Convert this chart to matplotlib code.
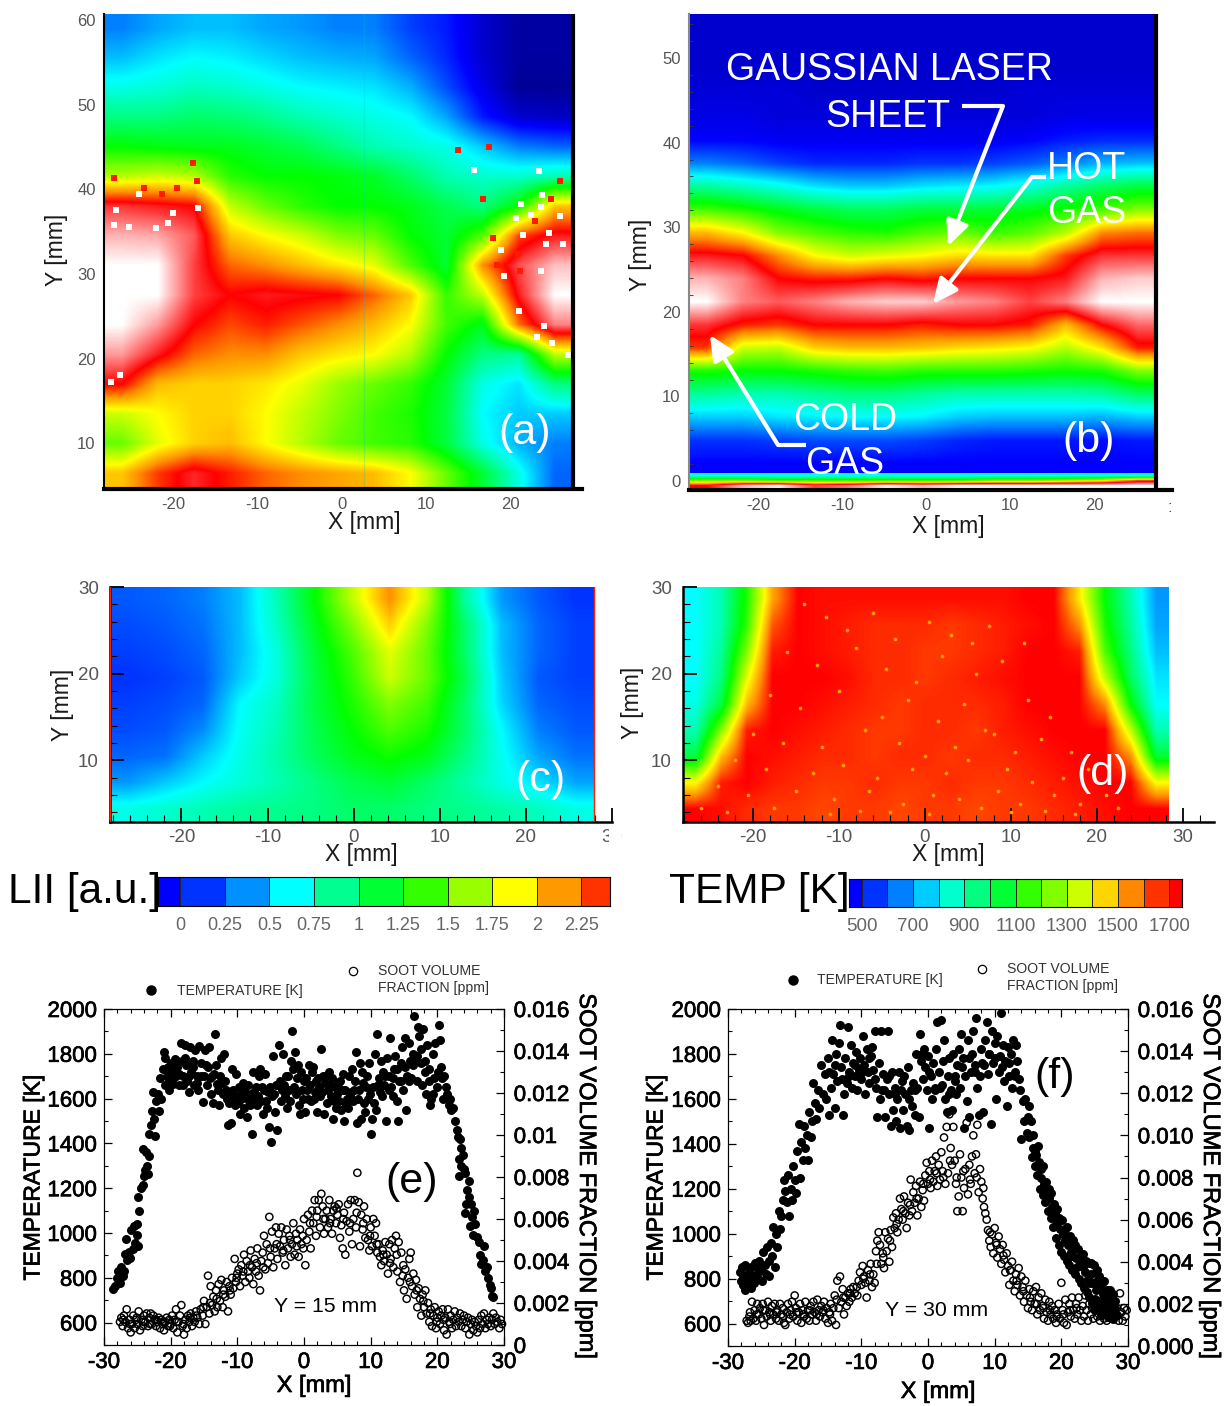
import numpy as np
import matplotlib
matplotlib.use('Agg')
import matplotlib.pyplot as plt
import matplotlib.patheffects as pe
from matplotlib.colors import LinearSegmentedColormap, ListedColormap, BoundaryNorm
from matplotlib.patches import Rectangle
from matplotlib.ticker import MultipleLocator

plt.rcParams['font.family'] = ['Liberation Sans', 'DejaVu Sans']
plt.rcParams['axes.unicode_minus'] = False

W, H = 1225, 1406

# panel (a): signal read on a coarse grid, top row first, colour scale 0-11
grid_a = [
    [2.0, 2.3, 2.5, 2.5, 2.3, 2.2, 2.0, 2.0, 1.5, 1.2, 0.6, 0.2, 0.2],
    [2.5, 2.8, 3.0, 2.9, 2.7, 2.5, 2.4, 2.3, 1.8, 1.3, 0.6, 0.2, 0.2],
    [3.2, 3.3, 3.5, 3.4, 3.2, 3.0, 2.9, 2.8, 2.4, 1.6, 0.8, 0.1, 0.1],
    [4.0, 4.0, 4.2, 4.1, 3.9, 3.6, 3.4, 3.2, 3.0, 2.3, 1.2, 0.6, 0.5],
    [5.0, 4.9, 4.8, 4.8, 4.6, 4.4, 4.0, 3.6, 3.4, 3.2, 2.6, 2.0, 1.8],
    [6.4, 6.6, 6.4, 5.3, 5.0, 5.0, 4.9, 4.7, 4.2, 3.6, 3.4, 3.4, 3.6],
    [9.4, 9.2, 9.0, 6.5, 5.8, 5.3, 5.0, 5.0, 4.8, 4.4, 4.0, 5.0, 7.5],
    [10.4, 10.3, 9.7, 7.5, 7.0, 6.6, 6.0, 5.8, 5.0, 4.6, 5.6, 8.5, 9.2],
    [11.0, 11.0, 9.5, 8.3, 8.0, 7.6, 7.2, 6.8, 5.6, 4.6, 8.0, 9.6, 10.5],
    [11.0, 11.0, 9.5, 9.0, 9.2, 9.1, 9.0, 8.3, 7.5, 5.4, 6.5, 9.2, 11.0],
    [11.0, 10.2, 9.0, 8.5, 8.8, 8.4, 8.0, 7.6, 7.0, 5.5, 4.8, 8.2, 10.0],
    [10.2, 9.2, 8.3, 8.0, 8.0, 7.5, 7.2, 7.0, 6.4, 5.0, 4.0, 3.8, 6.5],
    [9.0, 7.6, 7.4, 7.4, 7.2, 6.8, 6.2, 5.8, 5.4, 4.6, 3.2, 2.8, 4.0],
    [6.6, 7.0, 7.4, 7.4, 7.0, 6.5, 6.0, 5.5, 5.2, 4.5, 3.0, 2.6, 2.6],
    [5.8, 6.8, 7.4, 7.6, 7.0, 6.4, 5.8, 5.5, 5.3, 4.5, 3.2, 2.4, 2.0],
    [7.5, 8.6, 9.3, 8.8, 8.3, 8.0, 7.8, 7.6, 7.0, 5.8, 4.6, 3.2, 1.8],
]
a_white_x = [15.7, 21.3, 23.8, 23.6, 22.4, 20.7, 25.9, 23.4, 21.5, 24.6, 26.3, 24.2, 18.9, 19.3, 23.6, 21.0, 24.0, 23.2, 25.0, 26.8,
             -26.8, -24.0, -20.0, -17.1, -27.0, -25.2, -22.0, -20.6, -26.3, -27.4]
a_white_y = [42.3, 38.3, 39.3, 37.9, 37.0, 36.6, 36.8, 42.2, 34.6, 34.8, 33.5, 33.5, 32.8, 29.7, 30.3, 25.6, 23.9, 22.6, 21.9, 20.4,
             37.5, 39.5, 37.2, 37.8, 35.8, 35.6, 35.4, 36.0, 18.1, 17.2]
a_red_x = [17.5, 13.8, 16.8, 17.9, 20.9, 25.9, 22.9, 24.8, 18.4, 21.2, -17.7, -27.0, -23.4, -19.5, -21.3, -17.2]
a_red_y = [45.0, 44.6, 38.9, 34.2, 32.3, 41.0, 36.2, 38.8, 31.0, 30.4, 43.1, 41.3, 40.2, 40.2, 39.4, 41.0]

# panel (b)
grid_b = [
    [0.6, 0.6, 0.6, 0.6, 0.6, 0.6, 0.6, 0.6, 0.6, 0.6, 0.6, 0.6, 0.6],
    [0.6, 0.6, 0.6, 0.6, 0.6, 0.6, 0.6, 0.6, 0.6, 0.6, 0.6, 0.6, 0.6],
    [0.6, 0.6, 0.6, 0.6, 0.6, 0.6, 0.6, 0.6, 0.6, 0.6, 0.6, 0.6, 0.6],
    [0.7, 0.7, 0.7, 0.6, 0.6, 0.6, 0.6, 0.6, 0.6, 0.7, 0.7, 0.7, 0.7],
    [0.8, 0.8, 0.7, 0.7, 0.7, 0.7, 0.7, 0.7, 0.7, 0.7, 0.8, 0.8, 0.8],
    [1.0, 1.0, 0.9, 0.9, 0.9, 0.9, 0.9, 0.9, 0.9, 1.0, 1.2, 1.3, 1.3],
    [2.0, 1.8, 1.5, 1.3, 1.3, 1.3, 1.4, 1.4, 1.5, 1.7, 2.0, 2.4, 2.5],
    [3.8, 3.5, 3.2, 2.8, 2.6, 2.6, 2.8, 2.9, 3.0, 3.3, 3.8, 4.2, 4.5],
    [5.5, 5.2, 4.8, 4.5, 4.3, 4.3, 4.5, 4.5, 4.6, 4.8, 5.1, 5.5, 6.0],
    [7.6, 7.0, 6.0, 5.6, 5.3, 5.2, 5.6, 5.8, 5.4, 5.7, 6.4, 8.0, 8.2],
    [9.2, 9.0, 8.0, 7.0, 6.6, 6.8, 7.0, 7.3, 7.2, 7.2, 8.6, 9.4, 9.4],
    [10.4, 10.0, 9.0, 8.8, 8.8, 9.0, 8.8, 9.0, 9.0, 9.0, 9.2, 10.4, 10.6],
    [11.0, 10.0, 9.7, 10.0, 10.4, 10.6, 10.6, 10.2, 10.0, 9.5, 10.0, 11.0, 11.0],
    [9.4, 8.8, 8.6, 9.0, 9.0, 9.0, 8.8, 9.0, 9.0, 8.8, 7.6, 9.0, 9.8],
    [8.6, 6.6, 6.5, 7.4, 7.6, 7.6, 7.5, 7.3, 7.2, 7.0, 6.4, 7.2, 8.8],
    [5.2, 5.0, 5.0, 5.2, 5.4, 5.5, 5.3, 5.3, 5.3, 5.2, 5.1, 5.2, 6.0],
    [3.8, 3.6, 3.6, 3.8, 4.0, 4.0, 3.8, 3.6, 3.6, 3.6, 3.6, 3.7, 4.2],
    [2.6, 2.6, 2.8, 2.9, 3.0, 3.0, 2.9, 2.6, 2.5, 2.5, 2.5, 2.4, 2.6],
    [1.4, 1.4, 1.5, 1.6, 1.6, 1.6, 1.5, 1.3, 1.2, 1.2, 1.2, 1.1, 1.2],
    [1.0, 1.0, 1.0, 1.0, 1.0, 1.0, 1.0, 1.0, 1.0, 1.0, 1.0, 1.0, 1.0],
]
strip_b = [
    [3.0, 3.0, 3.0, 3.0, 3.0, 3.0, 3.0, 3.0, 3.0, 3.0, 3.0, 3.0, 3.0],
    [6.0, 6.0, 5.5, 5.5, 5.5, 5.5, 5.5, 5.5, 6.0, 6.0, 6.5, 7.0, 8.5],
    [9.0, 10.5, 11.0, 9.5, 10.0, 11.0, 10.5, 11.0, 11.0, 11.0, 11.0, 11.0, 11.0],
]

# panel (c)
grid_c = [
    [1.7, 1.8, 2.0, 2.5, 3.6, 5.0, 6.5, 8.0, 6.5, 3.8, 2.2, 1.7, 1.4],
    [1.6, 1.7, 1.9, 2.5, 3.5, 4.8, 6.0, 7.4, 6.0, 4.2, 2.5, 1.8, 1.5],
    [1.5, 1.6, 1.8, 2.5, 3.3, 4.6, 5.6, 6.8, 5.8, 4.2, 2.5, 1.8, 1.5],
    [1.4, 1.5, 1.7, 2.6, 3.3, 4.5, 5.4, 6.6, 5.8, 4.4, 2.6, 1.7, 1.5],
    [1.5, 1.6, 1.8, 3.0, 3.5, 4.5, 5.2, 6.0, 5.5, 4.2, 2.7, 1.8, 1.6],
    [1.6, 1.7, 2.1, 3.1, 3.6, 4.4, 5.0, 5.6, 5.2, 4.2, 3.0, 2.0, 1.7],
    [1.8, 1.9, 2.6, 3.2, 3.7, 4.3, 4.8, 5.1, 4.8, 4.0, 3.1, 2.3, 1.9],
    [2.2, 2.6, 3.0, 3.3, 3.6, 4.0, 4.4, 4.6, 4.2, 3.7, 3.2, 2.8, 2.3],
    [3.2, 3.4, 3.6, 3.8, 3.9, 4.0, 4.2, 4.2, 4.0, 3.9, 3.7, 3.5, 3.2],
]

# panel (d)
grid_d = [
    [3.0, 3.6, 5.2, 7.8, 9.0, 8.9, 8.9, 8.9, 8.9, 8.9, 8.9, 8.9, 8.9, 9.0, 9.0, 7.2, 5.0, 3.6, 2.2],
    [3.0, 3.6, 5.4, 8.4, 9.0, 8.9, 8.8, 8.7, 8.7, 8.7, 8.6, 8.7, 8.8, 8.9, 9.0, 8.0, 5.2, 3.8, 2.3],
    [3.0, 3.8, 6.0, 8.8, 9.0, 8.9, 8.8, 8.7, 8.7, 8.6, 8.6, 8.7, 8.8, 9.0, 9.0, 8.8, 5.6, 4.0, 2.5],
    [3.0, 4.0, 6.8, 9.0, 9.0, 9.0, 8.9, 8.7, 8.7, 8.6, 8.7, 8.8, 8.9, 9.0, 9.0, 9.0, 6.5, 4.3, 2.8],
    [3.2, 4.5, 7.6, 9.0, 9.0, 8.9, 8.8, 8.7, 8.6, 8.7, 8.7, 8.7, 8.8, 9.0, 9.0, 9.0, 8.0, 5.0, 3.0],
    [3.6, 6.0, 8.8, 9.0, 8.9, 8.8, 8.7, 8.6, 8.6, 8.7, 8.7, 8.6, 8.8, 8.9, 9.0, 9.0, 9.0, 6.5, 3.6],
    [4.5, 7.6, 9.0, 8.9, 8.8, 8.7, 8.7, 8.6, 8.7, 8.7, 8.6, 8.7, 8.7, 8.8, 8.9, 9.0, 9.0, 8.0, 4.6],
    [7.0, 8.8, 9.0, 8.8, 8.7, 8.6, 8.6, 8.7, 8.6, 8.6, 8.7, 8.6, 8.6, 8.7, 8.8, 8.9, 9.0, 9.0, 7.0],
    [9.0, 8.9, 8.7, 8.6, 8.6, 8.5, 8.6, 8.6, 8.5, 8.6, 8.6, 8.5, 8.6, 8.6, 8.7, 8.8, 8.9, 9.0, 9.0],
]
# lighter flecks seen inside the hot region of (d)
d_fleck_x = [-14, -11.5, -9, -6, -3.5, 0.5, 3, 5.5, 7.5, -16, -12.5, -8, -4.5, -1, 2, 6, 9, 11.5, -18, -14.5, -10, -5, -2, 1.5, 4.5, 8,
             12, 14.5, -20, -16.5, -12, -7, -3, 0, 3.5, 7, 10.5, 13.5, 17, -22, -18.5, -13, -9.5, -5.5, -1.5, 2.5, 5, 9.5, 12.5, 16, 19,
             -24, -20.5, -15, -10.5, -6.5, -2.5, 1, 4, 8.5, 11, 15, 18, 21, -26, -23, -17.5, -11, -7.5, -4, 0.5, 6.5, 10, 14, 17.5, 22.5]
d_fleck_y = [28, 26.5, 25, 27, 24, 26, 24.5, 23.5, 25.5, 22.5, 21, 23, 20.5, 19, 22, 20, 21.5, 23.5, 17.5, 16, 18, 15, 17, 14.5, 16.5, 13,
             17, 15, 13, 12, 11.5, 13.5, 12, 10.5, 11.5, 13.5, 11, 12.5, 11, 10, 9, 8.5, 9.5, 8, 9, 8.5, 10, 9, 7.5, 8, 9,
             7, 6, 6.5, 5.5, 6.5, 5, 6, 5.5, 6.5, 5, 6, 5, 6, 4.5, 4, 4.5, 3.8, 4.2, 4, 3.8, 4.5, 4, 4.2, 3.8, 4.5]

lii_levels = [-0.125, 0, 0.25, 0.5, 0.75, 1, 1.25, 1.5, 1.75, 2, 2.25, 2.41]
lii_colors = ['#0000ff', '#0033ff', '#0090ff', '#00ffff', '#00ff90', '#00ff33', '#33ff00', '#99ff00', '#ffff00', '#ff9900', '#ff3300']
lii_ticks = [0, 0.25, 0.5, 0.75, 1, 1.25, 1.5, 1.75, 2, 2.25]
lii_labels = ['0', '0.25', '0.5', '0.75', '1', '1.25', '1.5', '1.75', '2', '2.25']

temp_levels = [450, 500, 600, 700, 800, 900, 1000, 1100, 1200, 1300, 1400, 1500, 1600, 1700, 1750]
temp_colors = ['#0000ff', '#0033ff', '#0080ff', '#00ccff', '#00ffcc', '#00ff80', '#00ff33', '#33ff00', '#80ff00', '#ccff00', '#ffd500', '#ff8800', '#ff3300', '#ff0000']
temp_ticks = [500, 700, 900, 1100, 1300, 1500, 1700]

# panel (e) points: (X mm, temperature K)
e_temp = [
    (-28.6,750),(-28.4,765),(-28.1,800),(-27.9,830),(-27.6,775),(-27.5,850),(-27.2,810),(-27.0,830),(-26.9,905),(-26.7,975),
    (-26.5,880),(-26.3,915),(-26.1,890),(-25.9,1015),(-25.7,930),(-25.5,1030),(-25.3,955),(-25.1,990),(-25.0,1040),(-24.9,940),
    (-24.8,1100),(-24.9,1160),(-24.5,1200),(-24.2,1215),(-24.0,1255),(-23.8,1280),(-23.6,1300),(-23.4,1265),(-24.1,1375),(-23.7,1360),
    (-23.3,1345),(-23.0,1480),(-23.3,1440),(-22.8,1545),(-22.3,1435),(-22.5,1510),(-22.7,1630),(-22.2,1590),(-21.9,1620),(-21.7,1545),
    (-21.5,1600),(-21.6,1690),(-21.2,1730),(-21.0,1810),(-20.8,1780),(-20.6,1700),(-20.9,1660),(-20.4,1740),(-20.2,1680),(-20.0,1760),
    (-19.8,1720),(-19.6,1665),(-19.4,1775),(-19.2,1700),(-19.0,1740),(-18.8,1660),(-18.5,1850),(-18.3,1770),(-18.1,1700),(-17.9,1840),
    (-17.7,1750),(-17.5,1680),(-17.3,1630),(-17.1,1830),(-16.9,1720),(-16.7,1770),(-16.5,1660),(-16.3,1815),(-16.1,1700),(-15.9,1640),
    (-15.7,1835),(-15.5,1760),(-15.2,1585),(-15.0,1700),(-14.8,1815),(-14.6,1660),(-14.4,1740),(-14.2,1830),(-14.0,1620),(-13.8,1700),
    (-13.6,1580),(-13.4,1890),(-13.2,1750),(-13.0,1665),(-12.8,1570),(-12.6,1700),(-12.4,1780),(-12.2,1620),(-12.0,1800),(-11.8,1680),
    (-11.6,1600),(-11.4,1480),(-11.2,1580),(-11.0,1490),(-10.8,1730),(-10.6,1640),(-10.4,1570),(-10.2,1710),(-10.0,1610),(-9.8,1650),
    (-9.6,1530),(-9.4,1600),(-9.2,1670),(-9.0,1560),(-8.8,1630),(-8.6,1520),(-8.4,1660),(-8.2,1590),(-8.0,1620),(-7.8,1440),
    (-7.6,1720),(-7.4,1600),(-7.2,1650),(-7.0,1570),(-6.8,1700),(-6.6,1730),(-6.4,1590),(-6.2,1530),(-6.0,1640),(-5.8,1710),
    (-5.6,1560),(-5.4,1630),(-5.2,1475),(-5.0,1405),(-4.8,1610),(-4.6,1790),(-4.4,1540),(-4.2,1660),(-4.0,1460),(-3.8,1840),
    (-3.6,1680),(-3.4,1590),(-3.2,1800),(-3.0,1660),(-2.8,1610),(-2.6,1560),(-2.4,1700),(-2.2,1640),(-2.0,1770),(-1.8,1900),
    (-1.6,1730),(-1.4,1810),(-1.2,1620),(-1.0,1690),(-0.8,1570),(-0.6,1530),(-0.4,1720),(-0.2,1600),(0.0,1680),(0.2,1540),
    (0.4,1640),(0.6,1600),(0.8,1750),(1.0,1590),(1.2,1720),(1.4,1740),(1.6,1630),(1.8,1680),(2.0,1540),(2.2,1650),
    (2.4,1610),(2.6,1820),(2.8,1700),(3.0,1530),(3.2,1670),(3.4,1580),(3.6,1640),(3.8,1720),(4.0,1610),(4.2,1690),
    (4.4,1510),(4.6,1650),(4.8,1560),(5.0,1620),(5.2,1590),(5.4,1680),(5.6,1550),(5.8,1710),(6.0,1500),(6.2,1640),
    (6.4,1600),(6.6,1560),(6.8,1700),(7.0,1630),(7.2,1730),(7.4,1590),(7.6,1680),(7.8,1810),(8.0,1490),(8.2,1640),
    (8.4,1760),(8.6,1510),(8.8,1670),(9.0,1580),(9.2,1540),(9.4,1700),(9.6,1600),(9.8,1760),(10.0,1440),(10.2,1510),
    (10.4,1650),(10.6,1800),(10.8,1550),(11.0,1890),(11.2,1690),(11.4,1630),(11.6,1770),(11.8,1720),(12.0,1660),(12.3,1500),
    (12.5,1780),(12.7,1700),(12.9,1870),(13.1,1650),(13.3,1610),(13.5,1730),(13.7,1790),(13.9,1590),(14.1,1500),(14.3,1680),
    (14.5,1760),(14.7,1830),(14.9,1640),(15.1,1870),(15.3,1550),(15.5,1700),(15.7,1850),(15.9,1770),(16.1,1690),(16.3,1800),
    (16.5,1970),(16.7,1780),(16.9,1680),(17.1,1920),(17.3,1880),(17.5,1820),(17.7,1660),(17.9,1910),(18.1,1770),(18.3,1620),
    (18.5,1840),(18.7,1730),(18.9,1570),(19.1,1600),(19.3,1800),(19.5,1690),(19.7,1850),(20.0,1650),(20.2,1930),(20.4,1860),
    (20.6,1740),(20.8,1600),(21.0,1700),(21.3,1650),(21.5,1620),(21.7,1570),(21.9,1600),(22.1,1550),(22.4,1560),(22.7,1500),
    (22.9,1460),(23.1,1430),(23.4,1420),(23.6,1380),(23.2,1330),(23.8,1350),(23.5,1300),(23.3,1255),(24.0,1285),(24.2,1270),
    (24.8,1230),(24.4,1190),(24.3,1130),(24.2,1090),(24.7,1160),(25.0,1130),(25.2,1070),(24.9,1030),(25.5,1100),(25.7,1040),
    (25.4,990),(26.0,980),(26.2,960),(26.4,900),(26.6,860),(27.0,940),(26.9,880),(27.1,830),(27.4,850),(27.6,800),
    (27.9,770),(28.0,755),(28.2,720),(28.4,715),
]
e_temp_extra = [
    (-20.3,1640),(-19.7,1690),(-19.1,1770),(-18.7,1710),(-18.2,1660),(-17.8,1780),(-17.2,1700),(-16.6,1740),(-16.0,1670),(-15.4,1700),
    (-14.7,1750),(-14.1,1690),(-13.5,1710),(-12.9,1640),(-12.3,1670),(-11.7,1640),(-11.1,1620),(-10.5,1600),(-9.9,1580),(-9.3,1640),
    (-8.7,1610),(-8.1,1570),(-7.5,1630),(-6.9,1610),(-6.3,1650),(-5.7,1590),(-5.1,1650),(-4.5,1620),(-3.9,1660),(-3.3,1640),
    (-2.7,1700),(-2.1,1590),(-1.5,1650),(-0.9,1750),(-0.3,1640),(0.3,1690),(0.9,1660),(1.5,1600),(2.1,1690),(2.7,1630),
    (3.3,1700),(3.9,1660),(4.5,1590),(5.1,1670),(5.7,1640),(6.3,1570),(6.9,1610),(7.5,1640),(8.1,1600),(8.7,1720),
    (9.3,1650),(9.9,1620),(10.5,1580),(11.1,1660),(11.7,1610),(12.2,1700),(12.8,1640),(13.4,1690),(14.0,1730),(14.6,1680),
    (15.2,1740),(15.8,1680),(16.4,1750),(17.0,1790),(17.6,1760),(18.2,1720),(18.8,1680),(19.4,1620),(20.1,1720),(20.7,1690),
]
# panel (e) points: (X mm, soot ppm)
e_soot = [
    (-27.6,0.0011),(-27.4,0.0013),(-27.2,0.0009),(-27.0,0.0014),(-26.8,0.0011),(-26.6,0.0017),(-26.4,0.0008),(-26.2,0.0012),(-26.0,0.0006),(-25.8,0.0010),
    (-25.6,0.0014),(-25.4,0.0008),(-25.2,0.0012),(-25.0,0.0010),(-24.8,0.0016),(-24.6,0.0007),(-24.4,0.0012),(-24.2,0.0009),(-24.0,0.0014),(-23.8,0.0011),
    (-23.6,0.0015),(-23.4,0.0009),(-23.2,0.0013),(-23.0,0.0015),(-22.8,0.0010),(-22.6,0.0014),(-22.4,0.0012),(-22.2,0.0009),(-22.0,0.0011),(-21.8,0.0013),
    (-21.6,0.0008),(-21.4,0.0012),(-21.2,0.0010),(-21.0,0.0007),(-20.8,0.0011),(-20.6,0.0013),(-20.4,0.0009),(-20.2,0.0012),(-20.0,0.0010),(-19.8,0.0014),
    (-19.6,0.0008),(-19.4,0.0012),(-19.2,0.0017),(-19.0,0.0006),(-18.8,0.0011),(-18.6,0.0014),(-18.4,0.0019),(-18.2,0.0009),(-18.0,0.0005),(-17.8,0.0012),
    (-17.6,0.0008),(-17.4,0.0014),(-17.2,0.0011),(-17.0,0.0015),(-16.8,0.0009),(-16.6,0.0013),(-16.4,0.0011),(-16.2,0.0016),(-16.0,0.0013),(-15.7,0.0010),
    (-15.5,0.0017),(-15.2,0.0014),(-15.0,0.0021),(-14.8,0.0010),(-14.6,0.0018),(-14.4,0.0033),(-14.2,0.0015),(-14.0,0.0028),(-13.8,0.0019),(-13.6,0.0023),
    (-13.4,0.0016),(-13.2,0.0026),(-13.0,0.0018),(-12.8,0.0029),(-12.6,0.0021),(-12.4,0.0031),(-12.2,0.0018),(-12.0,0.0026),(-11.8,0.0023),(-11.6,0.0030),
    (-11.4,0.0016),(-11.2,0.0028),(-11.0,0.0024),(-10.8,0.0032),(-10.6,0.0027),(-10.4,0.0041),(-10.2,0.0030),(-10.0,0.0034),(-9.8,0.0036),(-9.6,0.0028),
    (-9.4,0.0038),(-9.2,0.0033),(-9.0,0.0043),(-8.8,0.0030),(-8.6,0.0040),(-8.4,0.0035),(-8.2,0.0032),(-8.0,0.0045),(-7.8,0.0037),(-7.6,0.0029),
    (-7.4,0.0041),(-7.2,0.0035),(-7.0,0.0046),(-6.8,0.0033),(-6.6,0.0026),(-6.4,0.0040),(-6.2,0.0044),(-6.0,0.0052),(-5.8,0.0036),(-5.6,0.0048),
    (-5.4,0.0039),(-5.2,0.0061),(-5.0,0.0042),(-4.8,0.0054),(-4.6,0.0037),(-4.4,0.0046),(-4.2,0.0056),(-4.0,0.0041),(-3.8,0.0053),(-3.6,0.0047),
    (-3.4,0.0056),(-3.2,0.0044),(-3.0,0.0050),(-2.8,0.0038),(-2.6,0.0055),(-2.4,0.0046),(-2.2,0.0052),(-2.0,0.0042),(-1.8,0.0048),(-1.6,0.0058),
    (-1.4,0.0043),(-1.2,0.0053),(-1.0,0.0050),(-0.8,0.0042),(-0.6,0.0055),(-0.4,0.0048),(-0.2,0.0052),(0.0,0.0060),(0.2,0.0038),(0.4,0.0050),
    (0.6,0.0062),(0.8,0.0054),(1.0,0.0046),(1.2,0.0064),(1.4,0.0058),(1.6,0.0069),(1.8,0.0052),(2.0,0.0064),(2.2,0.0069),(2.4,0.0056),
    (2.6,0.0072),(2.8,0.0066),(3.0,0.0053),(3.2,0.0060),(3.4,0.0064),(3.6,0.0056),(3.8,0.0069),(4.0,0.0060),(4.2,0.0053),(4.4,0.0064),
    (4.6,0.0066),(4.8,0.0058),(5.0,0.0062),(5.2,0.0067),(5.4,0.0051),(5.6,0.0057),(5.8,0.0046),(6.0,0.0063),(6.2,0.0043),(6.4,0.0059),
    (6.6,0.0067),(6.8,0.0054),(7.0,0.0069),(7.2,0.0048),(7.4,0.0060),(7.6,0.0069),(7.8,0.0056),(8.0,0.0082),(8.2,0.0068),(8.4,0.0047),
    (8.6,0.0062),(8.8,0.0055),(9.0,0.0066),(9.2,0.0051),(9.4,0.0060),(9.6,0.0050),(9.8,0.0045),(10.0,0.0056),(10.2,0.0047),(10.4,0.0060),
    (10.6,0.0052),(10.8,0.0058),(11.0,0.0044),(11.2,0.0048),(11.4,0.0042),(11.6,0.0038),(11.8,0.0045),(12.0,0.0040),(12.2,0.0049),(12.4,0.0043),
    (12.6,0.0034),(12.8,0.0048),(13.0,0.0041),(13.2,0.0050),(13.4,0.0037),(13.6,0.0046),(13.8,0.0052),(14.0,0.0035),(14.2,0.0049),(14.4,0.0030),
    (14.6,0.0044),(14.8,0.0033),(15.0,0.0026),(15.2,0.0036),(15.4,0.0022),(15.6,0.0032),(15.8,0.0041),(16.0,0.0044),(16.2,0.0028),(16.4,0.0034),
    (16.6,0.0024),(16.8,0.0031),(17.0,0.0018),(17.2,0.0027),(17.4,0.0022),(17.6,0.0014),(17.8,0.0024),(18.0,0.0018),(18.2,0.0026),(18.4,0.0015),
    (18.6,0.0020),(18.8,0.0011),(19.0,0.0017),(19.2,0.0009),(19.4,0.0014),(19.6,0.0018),(19.8,0.0008),(20.0,0.0013),(20.2,0.0016),(20.4,0.0010),
    (20.6,0.0014),(20.8,0.0017),(21.0,0.0007),(21.2,0.0013),(21.4,0.0005),(21.6,0.0017),(21.8,0.0011),(22.0,0.0014),(22.2,0.0008),(22.4,0.0012),
    (22.6,0.0016),(22.8,0.0009),(23.0,0.0013),(23.2,0.0011),(23.4,0.0015),(23.6,0.0009),(23.8,0.0012),(24.0,0.0014),(24.2,0.0008),(24.4,0.0011),
    (24.6,0.0013),(24.8,0.0005),(25.0,0.0010),(25.2,0.0012),(25.4,0.0007),(25.6,0.0011),(25.8,0.0009),(26.0,0.0006),(26.2,0.0012),(26.4,0.0008),
    (26.6,0.0014),(26.8,0.0010),(27.0,0.0015),(27.2,0.0008),(27.4,0.0012),(27.6,0.0010),(27.8,0.0013),(28.0,0.0009),(28.2,0.0012),(28.4,0.0015),
    (28.6,0.0010),(28.8,0.0013),(29.0,0.0011),(29.3,0.0008),(29.5,0.0012),(29.7,0.0010),
]
e_soot_extra = [
    (-27.1,0.0012),(-26.1,0.0010),(-25.1,0.0013),(-24.1,0.0011),(-23.1,0.0010),(-22.1,0.0012),(-21.1,0.0011),(-20.1,0.0009),(-19.1,0.0011),(-18.1,0.0010),
    (-17.1,0.0013),(-16.1,0.0014),(-15.1,0.0018),(-14.1,0.0020),(-13.1,0.0022),(-12.1,0.0024),(-11.1,0.0026),(-10.1,0.0032),(-9.1,0.0035),(-8.1,0.0038),
    (-7.1,0.0039),(-6.1,0.0037),(-5.1,0.0046),(-4.1,0.0048),(-3.1,0.0045),(-2.1,0.0050),(-1.1,0.0047),(-0.1,0.0046),(0.9,0.0058),(1.9,0.0061),
    (2.9,0.0060),(3.9,0.0058),(4.9,0.0065),(5.9,0.0060),(6.9,0.0058),(7.9,0.0063),(8.9,0.0058),(9.9,0.0052),(10.9,0.0048),(11.9,0.0043),
    (12.9,0.0039),(13.9,0.0043),(14.9,0.0038),(15.9,0.0030),(16.9,0.0026),(17.9,0.0021),(18.9,0.0015),(19.9,0.0011),(20.9,0.0012),(21.9,0.0010),
]
# panel (f) points: (X mm, temperature K)
f_temp = [
    (-28.2,830),(-28.0,790),(-27.9,850),(-27.7,810),(-27.5,750),(-27.4,860),(-27.2,800),(-27.0,770),(-26.9,830),(-26.7,790),
    (-26.5,850),(-26.3,810),(-26.1,780),(-25.9,870),(-25.7,820),(-25.5,800),(-25.3,880),(-25.1,840),(-24.9,790),(-24.7,920),
    (-24.5,860),(-24.3,820),(-24.1,940),(-23.9,880),(-23.8,810),(-23.6,960),(-23.4,900),(-23.2,1030),(-23.0,850),(-22.8,1000),
    (-22.6,940),(-22.4,1100),(-22.2,1020),(-22.0,1080),(-21.8,1150),(-21.6,1240),(-21.4,1190),(-21.2,1140),(-21.0,1260),(-20.8,1080),
    (-20.6,1200),(-20.4,1150),(-20.2,1300),(-20.0,1240),(-19.8,1180),(-19.6,1370),(-19.4,1490),(-19.2,1250),(-19.0,1410),(-18.8,1330),
    (-18.6,1480),(-18.4,1380),(-18.2,1440),(-18.0,1330),(-17.8,1540),(-17.6,1430),(-17.4,1500),(-17.2,1670),(-17.0,1580),(-16.8,1510),
    (-16.5,1640),(-16.3,1560),(-16.0,1750),(-15.8,1620),(-15.5,1710),(-15.3,1600),(-15.0,1780),(-14.8,1530),(-14.6,1650),(-14.4,1860),
    (-14.2,1710),(-14.0,1560),(-13.8,1800),(-13.6,1680),(-13.4,1850),(-13.2,1930),(-13.0,1740),(-12.8,1530),(-12.6,1620),(-12.4,1780),
    (-12.2,1670),(-12.0,1920),(-11.8,1720),(-11.6,1840),(-11.4,1650),(-11.2,1760),(-11.0,1700),(-10.8,1810),(-10.6,1640),(-10.4,1730),
    (-10.2,1780),(-10.0,1690),(-9.8,1880),(-9.6,1750),(-9.4,1620),(-9.2,1820),(-9.0,1720),(-8.8,1670),(-8.6,1790),(-8.4,1830),
    (-8.2,1730),(-8.0,1900),(-7.8,1650),(-7.6,1520),(-7.4,1760),(-7.2,1600),(-7.0,1900),(-6.8,1710),(-6.6,1640),(-6.4,1520),
    (-6.2,1690),(-6.0,1900),(-5.8,1620),(-5.6,1480),(-5.4,1720),(-5.2,1550),(-5.0,1650),(-4.8,1500),(-4.6,1600),(-4.4,1720),
    (-4.2,1470),(-4.0,1640),(-3.8,1550),(-3.6,1700),(-3.4,1620),(-3.2,1480),(-3.0,1740),(-2.8,1460),(-2.6,1640),(-2.4,1570),
    (-2.2,1670),(-2.0,1530),(-1.8,1800),(-1.6,1650),(-1.4,1520),(-1.2,1890),(-1.0,1770),(-0.8,1690),(-0.6,1820),(-0.4,1740),
    (-0.2,1640),(0.0,1790),(0.2,1470),(0.4,1700),(0.6,1600),(0.8,1760),(1.0,1640),(1.2,1820),(1.4,1940),(1.6,1720),
    (1.8,1650),(2.0,1950),(2.2,1770),(2.4,1860),(2.6,1600),(2.8,1540),(3.0,1700),(3.2,1780),(3.4,1640),(3.6,1550),
    (3.8,1800),(4.0,1680),(4.2,1620),(4.4,1750),(4.6,1820),(4.8,1650),(5.0,1890),(5.2,1780),(5.4,1470),(5.6,1700),
    (5.8,1590),(6.0,1860),(6.2,1520),(6.4,1720),(6.6,1800),(6.8,1900),(7.0,1750),(7.2,1960),(7.4,1650),(7.6,1530),
    (7.8,1700),(8.0,1820),(8.2,1540),(8.4,1750),(8.6,1860),(8.8,1940),(9.0,1710),(9.2,1800),(9.4,1490),(9.6,1900),
    (9.8,1760),(10.0,1850),(10.2,1600),(10.4,1880),(10.6,1720),(10.8,1790),(11.0,1980),(11.2,1840),(11.4,1680),(11.6,1770),
    (11.8,1570),(12.0,1830),(12.2,1700),(12.4,1800),(12.6,1650),(12.8,1860),(13.0,1720),(13.2,1840),(13.4,1770),(13.6,1690),
    (13.8,1640),(14.0,1420),(14.2,1590),(14.4,1500),(14.6,1600),(14.8,1450),(15.0,1520),(15.2,1430),(15.4,1500),(15.6,1340),
    (15.8,1380),(16.0,1300),(16.2,1350),(16.4,1260),(16.6,1320),(16.8,1200),(17.0,1250),(17.2,1170),(17.4,1220),(17.6,1140),
    (17.8,1190),(18.0,1100),(18.2,1160),(18.4,1070),(18.6,1120),(18.8,1030),(19.0,1090),(19.2,980),(19.4,1050),(19.6,950),
    (19.8,1020),(20.0,920),(20.2,1000),(20.4,900),(20.6,970),(20.8,880),(21.0,950),(21.2,860),(21.4,920),(21.6,840),
    (21.8,900),(22.0,820),(22.2,890),(22.4,850),(22.6,800),(22.8,870),(23.0,780),(23.2,850),(23.4,760),(23.6,830),
    (23.8,740),(24.0,800),(24.2,720),(24.4,870),(24.6,690),(24.8,780),(25.0,660),(25.2,750),(25.4,840),(25.6,700),
    (25.8,760),(26.0,640),(26.2,730),(26.4,790),(26.6,680),(26.8,750),(27.0,630),(27.2,710),(27.4,660),(27.6,690),
    (27.8,620),(28.0,670),(28.3,640),
]
f_temp_extra = [
    (-14.9,1720),(-13.9,1750),(-12.9,1690),(-11.9,1700),(-10.9,1750),(-9.9,1720),(-8.9,1780),(-7.9,1690),(-6.9,1640),(-5.9,1700),
    (-4.9,1620),(-3.9,1680),(-2.9,1600),(-1.9,1640),(-0.9,1800),(0.1,1720),(1.1,1650),(2.1,1660),(3.1,1620),(4.1,1700),
    (5.1,1740),(6.1,1780),(7.1,1720),(8.1,1760),(9.1,1800),(10.1,1780),(11.1,1740),(12.1,1760),(13.1,1700),(15.1,1570),
    (15.7,1440),(16.1,1370),(16.5,1390),(16.9,1290),(17.3,1300),(17.7,1230),(18.1,1200),(18.5,1180),(18.9,1130),(19.3,1110),
    (19.7,1070),(20.1,1060),(20.5,1020),(20.9,1030),(21.3,990),(21.7,970),(22.1,950),(22.5,930),(22.9,900),(23.3,910),
    (23.7,880),(24.1,870),(24.5,820),(24.9,860),(25.3,790),(25.7,810),(26.1,780),(26.5,720),(26.9,700),(27.3,750),
    (27.7,730),(24.3,780),(25.1,710),(25.9,680),(26.7,650),(27.5,630),(28.1,700),(-27.8,770),(-26.6,760),(-25.6,850),
]
# panel (f) points: (X mm, soot ppm)
f_soot = [
    (-27.2,0.0012),(-27.0,0.0011),(-26.8,0.0014),(-26.6,0.0012),(-26.4,0.0021),(-26.2,0.0013),(-26.0,0.0017),(-25.8,0.0012),(-25.6,0.0020),(-25.4,0.0015),
    (-25.2,0.0018),(-25.0,0.0013),(-24.8,0.0020),(-24.6,0.0010),(-24.4,0.0017),(-24.2,0.0014),(-24.0,0.0021),(-23.8,0.0016),(-23.6,0.0012),(-23.4,0.0019),
    (-23.2,0.0015),(-23.0,0.0020),(-22.8,0.0013),(-22.6,0.0017),(-22.4,0.0012),(-22.2,0.0020),(-22.0,0.0015),(-21.8,0.0018),(-21.6,0.0011),(-21.4,0.0010),
    (-21.2,0.0016),(-21.0,0.0020),(-20.8,0.0013),(-20.6,0.0017),(-20.4,0.0021),(-20.2,0.0014),(-20.0,0.0024),(-19.8,0.0018),(-19.6,0.0012),(-19.4,0.0016),
    (-19.2,0.0020),(-19.0,0.0011),(-18.8,0.0017),(-18.6,0.0014),(-18.4,0.0021),(-18.2,0.0013),(-18.0,0.0017),(-17.8,0.0012),(-17.6,0.0019),(-17.4,0.0015),
    (-17.2,0.0021),(-17.0,0.0016),(-16.8,0.0012),(-16.6,0.0022),(-16.4,0.0017),(-16.2,0.0014),(-16.0,0.0019),(-15.8,0.0016),(-15.6,0.0021),(-15.4,0.0013),
    (-15.2,0.0018),(-15.0,0.0011),(-14.8,0.0016),(-14.6,0.0020),(-14.4,0.0012),(-14.2,0.0018),(-14.0,0.0024),(-13.8,0.0010),(-13.6,0.0031),(-13.4,0.0018),
    (-13.2,0.0033),(-13.0,0.0021),(-12.8,0.0027),(-12.6,0.0015),(-12.4,0.0023),(-12.2,0.0019),(-12.0,0.0025),(-11.8,0.0021),(-11.6,0.0027),(-11.4,0.0023),
    (-11.2,0.0028),(-11.0,0.0025),(-10.6,0.0024),(-10.4,0.0031),(-10.2,0.0035),(-10.0,0.0029),(-9.8,0.0038),(-9.6,0.0033),(-9.4,0.0030),(-9.2,0.0023),
    (-9.0,0.0036),(-8.8,0.0031),(-8.6,0.0039),(-8.4,0.0028),(-8.2,0.0034),(-8.0,0.0030),(-7.8,0.0045),(-7.6,0.0050),(-7.4,0.0054),(-7.2,0.0048),
    (-7.0,0.0039),(-6.8,0.0044),(-6.6,0.0037),(-6.4,0.0054),(-6.2,0.0045),(-6.0,0.0051),(-5.8,0.0040),(-5.6,0.0055),(-5.4,0.0047),(-5.2,0.0061),
    (-5.0,0.0056),(-4.8,0.0063),(-4.6,0.0054),(-4.4,0.0060),(-4.2,0.0070),(-4.0,0.0065),(-3.8,0.0060),(-3.6,0.0071),(-3.4,0.0063),(-3.2,0.0056),
    (-3.0,0.0068),(-2.8,0.0062),(-2.6,0.0079),(-2.4,0.0064),(-2.2,0.0073),(-2.0,0.0068),(-1.8,0.0076),(-1.6,0.0062),(-1.4,0.0070),(-1.2,0.0078),
    (-1.0,0.0066),(-0.8,0.0074),(-0.6,0.0069),(-0.4,0.0081),(-0.2,0.0087),(0.0,0.0077),(0.2,0.0083),(0.4,0.0075),(0.6,0.0088),(0.8,0.0078),
    (1.0,0.0083),(1.2,0.0090),(1.4,0.0076),(1.6,0.0086),(1.8,0.0079),(2.0,0.0092),(2.2,0.0083),(2.4,0.0099),(2.6,0.0077),(2.8,0.0104),
    (3.0,0.0082),(3.2,0.0110),(3.4,0.0094),(3.6,0.0086),(3.8,0.0104),(4.0,0.0088),(4.2,0.0077),(4.4,0.0064),(4.6,0.0071),(4.8,0.0091),
    (5.0,0.0080),(5.2,0.0064),(5.4,0.0075),(5.6,0.0084),(5.8,0.0106),(6.0,0.0072),(6.2,0.0086),(6.4,0.0077),(6.6,0.0090),(6.8,0.0100),
    (7.0,0.0082),(7.2,0.0091),(7.4,0.0105),(7.6,0.0073),(7.8,0.0084),(8.0,0.0078),(8.2,0.0070),(8.4,0.0066),(8.6,0.0063),(8.8,0.0060),
    (9.0,0.0055),(9.2,0.0050),(9.4,0.0047),(9.6,0.0053),(9.8,0.0044),(10.0,0.0056),(10.2,0.0049),(10.4,0.0042),(10.6,0.0052),(10.8,0.0046),
    (11.0,0.0039),(11.2,0.0048),(11.4,0.0041),(11.6,0.0035),(11.8,0.0044),(12.0,0.0038),(12.2,0.0029),(12.4,0.0036),(12.6,0.0040),(12.8,0.0031),
    (13.0,0.0026),(13.2,0.0034),(13.4,0.0029),(13.6,0.0037),(13.8,0.0024),(14.0,0.0033),(14.2,0.0028),(14.4,0.0021),(14.6,0.0031),(14.8,0.0024),
    (15.0,0.0018),(15.2,0.0027),(15.4,0.0021),(15.6,0.0017),(15.8,0.0026),(16.0,0.0020),(16.2,0.0028),(16.4,0.0015),(16.6,0.0023),(16.8,0.0017),
    (17.0,0.0025),(17.2,0.0019),(17.4,0.0013),(17.6,0.0022),(17.8,0.0016),(18.0,0.0012),(18.2,0.0021),(18.4,0.0015),(18.6,0.0019),(18.8,0.0013),
    (19.0,0.0017),(19.2,0.0011),(19.4,0.0015),(19.6,0.0020),(19.8,0.0013),(20.0,0.0030),(20.2,0.0017),(20.4,0.0011),(20.6,0.0022),(20.8,0.0010),
    (21.0,0.0016),(21.2,0.0020),(21.4,0.0014),(21.6,0.0023),(21.8,0.0017),(22.0,0.0013),(22.2,0.0020),(22.4,0.0015),(22.6,0.0023),(22.8,0.0017),
    (23.0,0.0012),(23.2,0.0019),(23.4,0.0014),(23.6,0.0024),(23.8,0.0017),(24.0,0.0012),(24.2,0.0020),(24.4,0.0015),(24.6,0.0018),(24.8,0.0013),
    (25.0,0.0017),(25.2,0.0021),(25.4,0.0014),(25.6,0.0018),(25.8,0.0012),(26.0,0.0016),(26.2,0.0020),(26.4,0.0013),(26.6,0.0017),(26.8,0.0012),
    (27.0,0.0019),(27.2,0.0014),(27.4,0.0017),(27.6,0.0013),(27.8,0.0016),(28.0,0.0021),(28.2,0.0014),(28.4,0.0018),(28.6,0.0012),(28.8,0.0025),
    (29.0,0.0016),(29.2,0.0012),(29.4,0.0018),(29.6,0.0014),(29.8,0.0017),
]
f_soot_extra = [
    (-26.7,0.0016),(-25.7,0.0015),(-24.7,0.0017),(-23.7,0.0015),(-22.7,0.0016),(-21.7,0.0014),(-20.7,0.0015),(-19.7,0.0016),(-18.7,0.0015),(-17.7,0.0017),
    (-16.7,0.0015),(-15.7,0.0017),(-14.7,0.0015),(-13.7,0.0022),(-12.7,0.0023),(-11.7,0.0025),(-10.7,0.0028),(-9.7,0.0032),(-8.7,0.0034),(-7.7,0.0039),
    (-6.7,0.0042),(-5.7,0.0050),(-4.7,0.0058),(-3.7,0.0064),(-2.7,0.0067),(-1.7,0.0070),(-0.7,0.0077),(0.3,0.0079),(1.3,0.0082),(2.3,0.0080),
    (3.3,0.0088),(4.3,0.0080),(5.3,0.0083),(6.3,0.0079),(7.3,0.0080),(8.3,0.0075),(9.3,0.0054),(10.3,0.0048),(11.3,0.0043),(12.3,0.0036),
    (13.3,0.0031),(14.3,0.0026),(15.3,0.0023),(16.3,0.0020),(17.3,0.0018),(18.3,0.0017),(19.3,0.0014),(20.3,0.0015),(21.3,0.0017),(22.3,0.0018),
]

x_ticks_maps = [-20, -10, 0, 10, 20]
soot_labels_e = ['0', '0.002', '0.004', '0.006', '0.008', '0.01', '0.012', '0.014', '0.016']
soot_labels_f = ['0.000', '0.002', '0.004', '0.006', '0.008', '0.010', '0.012', '0.014', '0.016']

rainbow = LinearSegmentedColormap.from_list('lii', [
    '#00008c', '#0000ff', '#0080ff', '#00ffff', '#00ff80', '#00ff00',
    '#80ff00', '#ffff00', '#ff9000', '#ff0000', '#ff8080', '#ffffff'], N=512)

fig = plt.figure(figsize=(W / 100, H / 100), dpi=100)
heavy = [pe.withStroke(linewidth=0.5, foreground='black')]


def px_axes(x0, y0, x1, y1, **kw):
    return fig.add_axes([x0 / W, 1 - y1 / H, (x1 - x0) / W, (y1 - y0) / H], **kw)


def show_grid(ax, grid, ext):
    ax.imshow(grid, extent=ext, cmap=rainbow, vmin=0, vmax=11, aspect='auto',
              interpolation='bilinear', interpolation_stage='data', origin='upper', zorder=1)


def map_axes(box, grid, ext, xlim, ylim, yticks, grey='#555555', ticksize=12):
    ax = px_axes(*box)
    show_grid(ax, grid, ext)
    ax.set_xlim(xlim)
    ax.set_ylim(ylim)
    ax.set_xticks(x_ticks_maps)
    ax.set_yticks(yticks)
    ax.tick_params(labelsize=ticksize, labelcolor=grey, length=0, pad=6)
    ax.spines['top'].set_visible(False)
    ax.spines['right'].set_visible(False)
    return ax


# (a)
ax_a = map_axes((104, 14, 582, 489), grid_a, (-28.2, 27.4, 4.7, 60.7), (-28.2, 28.5), (4.6, 60.7), [10, 20, 30, 40, 50, 60])
ax_a.scatter(a_red_x, a_red_y, marker='s', s=16, c='#ff1a00', linewidths=0, zorder=2)
ax_a.scatter(a_white_x, a_white_y, marker='s', s=22, c='white', linewidths=0, zorder=3)
ax_a.axvline(2.7, color='#00c8c8', lw=1, alpha=0.25, zorder=2)
ax_a.axvline(27.45, color='black', lw=3, zorder=4)
ax_a.spines['bottom'].set_linewidth(3)
ax_a.spines['left'].set_linewidth(1.5)

# (b)
ax_b = map_axes((689, 14, 1172, 490), grid_b, (-28.2, 27.2, 0.7, 55.2), (-28.2, 29.2), (-1.06, 55.2), [0, 10, 20, 30, 40, 50])
show_grid(ax_b, strip_b, (-28.2, 27.2, -0.8, 0.9))
ax_b.set_xlim(-28.2, 29.2)
ax_b.set_ylim(-1.06, 55.2)
ax_b.axvline(27.3, color='black', lw=3, zorder=4)
ax_b.spines['bottom'].set_linewidth(3)
ax_b.spines['left'].set_color('#888888')
ax_b.spines['left'].set_linewidth(1.5)
ax_b.yaxis.set_minor_locator(MultipleLocator(2))
ax_b.tick_params(which='minor', left=True, direction='in', length=3, color='#333333')

# (c)
ax_c = map_axes((110, 587, 612, 822), grid_c, (-28.3, 28.0, 2.9, 30), (-28.3, 30), (2.9, 30), [10, 20, 30], ticksize=13.5)
ax_c.set_xticks([-20, -10, 0, 10, 20, 30])
ax_c.axvline(27.95, color='#ff2000', lw=1, zorder=3)
ax_c.axvline(-28.25, color='#ff2000', lw=1, zorder=3)

# (d)
ax_d = map_axes((683, 587, 1214, 822), grid_d, (-28.1, 28.3, 2.9, 30), (-28.1, 33.6), (2.9, 30), [10, 20, 30], ticksize=13.5)
ax_d.set_xticks([-20, -10, 0, 10, 20, 30])
ax_d.scatter(d_fleck_x, d_fleck_y, s=7, c='#ffa000', linewidths=0, zorder=2)

for ax in (ax_c, ax_d):
    ax.spines['bottom'].set_linewidth(1.8)
    ax.spines['left'].set_linewidth(1.8)
    ax.xaxis.set_minor_locator(MultipleLocator(2))
    ax.yaxis.set_minor_locator(MultipleLocator(2))
    ax.tick_params(which='major', axis='both', direction='in', length=10, width=1.3, color='black', zorder=5)
    ax.tick_params(which='minor', axis='both', direction='in', length=5, width=0.8, color='black')
    ax.tick_params(which='major', axis='x', pad=5)
    ax.tick_params(which='major', axis='y', pad=8, length=10)

# colour bars
bar_lii = px_axes(158, 877, 610, 906)
bar_lii.pcolormesh(lii_levels, [0, 1], [[(a + b) / 2 for a, b in zip(lii_levels[:-1], lii_levels[1:])]],
                   cmap=ListedColormap(lii_colors), norm=BoundaryNorm(lii_levels, len(lii_colors)),
                   edgecolors='#222222', linewidth=0.6)
bar_lii.set_xticks(lii_ticks, lii_labels)
bar_lii.set_yticks([])
bar_lii.tick_params(length=0, labelsize=13, labelcolor='#666666', pad=8)

bar_temp = px_axes(849, 879, 1182, 907)
bar_temp.pcolormesh(temp_levels, [0, 1], [[(a + b) / 2 for a, b in zip(temp_levels[:-1], temp_levels[1:])]],
                    cmap=ListedColormap(temp_colors), norm=BoundaryNorm(temp_levels, len(temp_colors)),
                    edgecolors='#222222', linewidth=0.6)
bar_temp.set_xticks(temp_ticks)
bar_temp.set_yticks([])
bar_temp.tick_params(length=0, labelsize=13.5, labelcolor='#666666', pad=8)


def profile(box, temp, soot, soot_labels):
    ax = px_axes(*box)
    t = np.array(temp)
    s = np.array(soot)
    ax.scatter(t[:, 0], t[:, 1], s=42, c='black', linewidths=0, zorder=3, clip_on=False)
    ax.set_xlim(-30, 30)
    ax.set_ylim(500, 2000)
    ax.set_xticks([-30, -20, -10, 0, 10, 20, 30])
    ax.set_yticks([600, 800, 1000, 1200, 1400, 1600, 1800, 2000])
    ax.xaxis.set_minor_locator(MultipleLocator(2))
    ax.yaxis.set_minor_locator(MultipleLocator(100))
    ax.tick_params(which='major', direction='in', top=True, length=6, width=0.9, labelsize=16, pad=5)
    ax.tick_params(which='minor', direction='in', top=True, length=3, width=0.8)
    ax2 = ax.twinx()
    ax2.scatter(s[:, 0], s[:, 1], s=27, facecolors='none', edgecolors='black', linewidths=1.05, zorder=3, clip_on=False)
    ax2.set_ylim(0, 0.016)
    ax2.set_yticks(np.arange(0, 0.0161, 0.002), soot_labels)
    ax2.yaxis.set_minor_locator(MultipleLocator(0.001))
    ax2.tick_params(which='major', direction='in', length=6, width=0.9, labelsize=16, pad=7)
    ax2.tick_params(which='minor', direction='in', length=3, width=0.8)
    for tl in ax.get_xticklabels() + ax.get_yticklabels() + ax2.get_yticklabels():
        tl.set_path_effects(heavy)
    return ax


profile((104, 1009, 504, 1345), e_temp + e_temp_extra, e_soot + e_soot_extra, soot_labels_e)
profile((728, 1009, 1128, 1346), f_temp + f_temp_extra, f_soot + f_soot_extra, soot_labels_f)

# everything placed by pixel on a transparent overlay
ov = fig.add_axes([0, 0, 1, 1], zorder=20)
ov.set_xlim(0, W)
ov.set_ylim(H, 0)
ov.axis('off')
ov.patch.set_alpha(0)

ov.add_patch(Rectangle((609, 825), 12, 25, fc='white', ec='none'))


def label(x, y, s, size, color='#1a1a1a', **kw):
    ov.text(x, y, s, fontsize=size, color=color, ha=kw.pop('ha', 'center'), va=kw.pop('va', 'center'), **kw)


# map axis titles
label(364, 523, 'X [mm]', 16.5)
label(56, 250, 'Y [mm]', 16.5, rotation=90)
label(948, 527, 'X [mm]', 16.5)
label(640, 255, 'Y [mm]', 16.5, rotation=90)
label(361, 854, 'X [mm]', 16.5)
label(62, 705, 'Y [mm]', 16.5, rotation=90)
label(948, 855, 'X [mm]', 16.5)
label(633, 703, 'Y [mm]', 16.5, rotation=90)
ov.add_patch(Rectangle((330, 860), 70, 12, fc='white', ec='none'))
label(1170, 507, ':', 12, color='#555555')

# panel tags
label(525, 433, '(a)', 31, color='white')
label(1089, 441, '(b)', 31, color='white')
label(540, 780, '(c)', 31, color='white')
label(1103, 774, '(d)', 31, color='white')
label(412, 1182, '(e)', 31, color='black')
label(1055, 1077, '(f)', 31, color='black')

# annotations on panel (b)
label(889, 70, 'GAUSSIAN LASER', 27, color='white')
label(888, 117, 'SHEET', 27, color='white')
label(1087, 169, 'HOT', 27, color='white')
label(1087, 213, 'GAS', 27, color='white')
label(845, 420, 'COLD', 27, color='white')
label(845, 464, 'GAS', 27, color='white')


def arrow(points):
    xs, ys = zip(*points)
    ov.plot(xs[:-1], ys[:-1], color='white', lw=3, solid_joinstyle='miter', solid_capstyle='butt')
    ov.annotate('', xy=points[-1], xytext=points[-2],
                arrowprops=dict(arrowstyle='-|>,head_length=1.5,head_width=0.7', color='white', lw=3,
                                shrinkA=0, shrinkB=0))


arrow([(962, 106), (1003, 106), (948, 246)])
arrow([(1046, 177), (1032, 177), (933, 304)])
arrow([(806, 445), (778, 445), (710, 335)])

# colour bar titles
label(85, 892, 'LII [a.u.]', 30.5, color='black')
label(759, 892, 'TEMP [K]', 30.5, color='black')

# profile titles
for xc, lab, yl, yr, yt in [(314, 33, 1178, 586, 1386), (938, 656, 1178, 1210, 1392)]:
    ov.text(xc, yt, 'X [mm]', fontsize=17, color='black', ha='center', va='center', path_effects=heavy)
    ov.text(lab, yl, 'TEMPERATURE [K]', fontsize=16.5, color='black', ha='center', va='center', rotation=90, path_effects=heavy)
    ov.text(yr, 1176, 'SOOT VOLUME FRACTION [ppm]', fontsize=17, color='black', ha='center', va='center', rotation=-90, path_effects=heavy)
label(326, 1306, 'Y = 15 mm', 15.3, color='black')
label(937, 1310, 'Y = 30 mm', 15.3, color='black')

# legends
ov.plot([151], [990], 'o', color='black', ms=6.5)
label(177, 991, 'TEMPERATURE [K]', 10.1, color='#333333', ha='left')
ov.plot([353], [971], 'o', mfc='none', mec='black', mew=0.9, ms=6)
label(378, 971, 'SOOT VOLUME', 10.1, color='#333333', ha='left')
label(378, 988, 'FRACTION [ppm]', 10.1, color='#333333', ha='left')
ov.plot([793], [980], 'o', color='black', ms=6.5)
label(817, 980, 'TEMPERATURE [K]', 10.1, color='#333333', ha='left')
ov.plot([982], [969], 'o', mfc='none', mec='black', mew=0.9, ms=6)
label(1007, 969, 'SOOT VOLUME', 10.1, color='#333333', ha='left')
label(1007, 986, 'FRACTION [ppm]', 10.1, color='#333333', ha='left')
ov.set_xlim(0, W)
ov.set_ylim(H, 0)

fig.savefig('out.png', dpi=100, facecolor='white')
